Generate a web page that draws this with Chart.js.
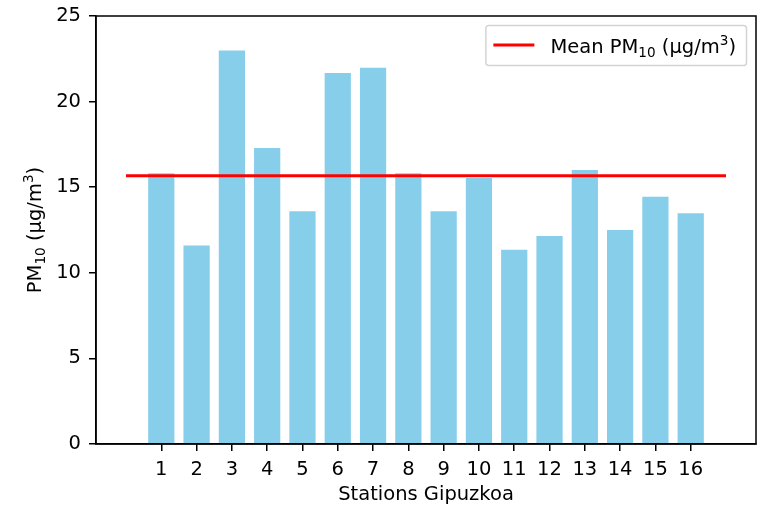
<!DOCTYPE html>
<html>
<head>
<meta charset="utf-8">
<script src="https://cdn.jsdelivr.net/npm/chart.js@4/dist/chart.umd.min.js"></script>
<style>
  html, body { margin: 0; padding: 0; background: #fff; }
  #wrap { width: 764px; height: 505px; }
</style>
</head>
<body>
<div id="wrap"><canvas id="pmChart" width="764" height="505"></canvas></div>
<script>
// PM10 por estación (Gipuzkoa)
const stations = [1, 2, 3, 4, 5, 6, 7, 8, 9, 10, 11, 12, 13, 14, 15, 16];
const pm10 = [15.87, 11.66, 23.05, 17.35, 13.65, 21.73, 22.04, 15.87, 13.65, 15.6, 11.41, 12.21, 16.06, 12.56, 14.5, 13.53];
const meanLineX = [0, 17];
const meanPm10 = 15.67;
const yTicks = [0, 5, 10, 15, 20, 25];

const fontFamily = "'DejaVu Sans', sans-serif";
const fontSize = 19.5;
const scriptSize = 13.6;

// textos con subíndice / superíndice
const meanLabel = [{ t: "Mean PM" }, { t: "10", sub: true }, { t: " (µg/m" }, { t: "3", sup: true }, { t: ")" }];
const yTitle = [{ t: "PM" }, { t: "10", sub: true }, { t: " (µg/m" }, { t: "3", sup: true }, { t: ")" }];
const xTitle = [{ t: "Stations Gipuzkoa" }];

function segFont(s) {
  return ((s.sub || s.sup) ? scriptSize : fontSize) + "px " + fontFamily;
}

function richWidth(ctx, segs) {
  let w = 0;
  segs.forEach(s => { ctx.font = segFont(s); w += ctx.measureText(s.t).width; });
  return w;
}

// dibuja en (x, baseline), alineado a la izquierda
function drawRich(ctx, segs, x, y) {
  ctx.textBaseline = "alphabetic";
  ctx.textAlign = "left";
  segs.forEach(s => {
    ctx.font = segFont(s);
    const dy = s.sub ? 3.5 : s.sup ? -8 : 0;
    ctx.fillText(s.t, x, y + dy);
    x += ctx.measureText(s.t).width;
  });
}

// marco completo + títulos de ejes
const framePlugin = {
  id: "frame",
  afterDraw(chart) {
    const { ctx, chartArea: a } = chart;
    ctx.save();
    ctx.strokeStyle = "#000";
    ctx.lineWidth = 1.5;
    ctx.strokeRect(a.left, a.top, a.right - a.left, a.bottom - a.top);

    ctx.fillStyle = "#000";
    const cx = (a.left + a.right) / 2;
    drawRich(ctx, xTitle, cx - richWidth(ctx, xTitle) / 2, 500);

    const cy = (a.top + a.bottom) / 2;
    ctx.translate(41, cy);
    ctx.rotate(-Math.PI / 2);
    drawRich(ctx, yTitle, -richWidth(ctx, yTitle) / 2, 0);
    ctx.restore();
  }
};

// leyenda dentro del área
const innerLegend = {
  id: "innerLegend",
  afterDraw(chart) {
    const { ctx, chartArea: a } = chart;
    const ds = chart.data.datasets[1];
    ctx.save();
    const textW = richWidth(ctx, meanLabel);
    const w = textW + 75, h = 40;
    const x = a.right - 10 - w, y = a.top + 9;
    ctx.beginPath();
    ctx.roundRect(x + 0.5, y + 0.5, w, h, 3);
    ctx.fillStyle = "rgba(255,255,255,0.8)";
    ctx.fill();
    ctx.strokeStyle = "#d4d4d4";
    ctx.lineWidth = 1.5;
    ctx.stroke();
    ctx.beginPath();
    ctx.moveTo(x + 8, y + h / 2);
    ctx.lineTo(x + 49, y + h / 2);
    ctx.strokeStyle = ds.borderColor;
    ctx.lineWidth = 3;
    ctx.stroke();
    ctx.fillStyle = "#000";
    drawRich(ctx, meanLabel, x + 65, y + 28);
    ctx.restore();
  }
};

const ctx = document.getElementById("pmChart").getContext("2d");
new Chart(ctx, {
  type: "bar",
  data: {
    datasets: [{
      type: "bar",
      label: "PM10",
      data: stations.map((s, i) => ({ x: s, y: pm10[i] })),
      backgroundColor: "#87CEEB",
      borderColor: "rgba(255,255,255,0.3)",
      borderWidth: 1,
      categoryPercentage: 1,
      barPercentage: 0.8,
      order: 2
    }, {
      type: "line",
      label: "Mean PM10 (µg/m3)",
      data: meanLineX.map(x => ({ x, y: meanPm10 })),
      borderColor: "#ff0000",
      borderWidth: 3,
      pointRadius: 0,
      fill: false,
      order: 1
    }]
  },
  options: {
    responsive: false,
    animation: false,
    layout: { padding: { top: 16, right: 8, left: 0, bottom: 0 } },
    plugins: {
      legend: { display: false },
      tooltip: { enabled: false }
    },
    scales: {
      x: {
        type: "linear",
        min: -0.85,
        max: 17.85,
        offset: false,
        afterBuildTicks: s => { s.ticks = stations.map(v => ({ value: v })); },
        afterFit: s => { s.height = 61; s.paddingLeft = 0; s.paddingRight = 0; },
        ticks: { color: "#000", font: { family: fontFamily, size: fontSize }, padding: 7, maxRotation: 0, autoSkip: false },
        grid: { drawOnChartArea: false, offset: false, tickLength: 7, color: "#000", lineWidth: 1.5 },
        border: { color: "#000", width: 1.5 }
      },
      y: {
        min: 0,
        max: 25,
        afterBuildTicks: s => { s.ticks = yTicks.map(v => ({ value: v })); },
        afterFit: s => { s.width = 96; s.paddingTop = 0; s.paddingBottom = 0; },
        ticks: { color: "#000", font: { family: fontFamily, size: fontSize }, padding: 8 },
        grid: { drawOnChartArea: false, tickLength: 7, color: "#000", lineWidth: 1.5 },
        border: { color: "#000", width: 1.5 }
      }
    }
  },
  plugins: [framePlugin, innerLegend]
});
</script>
</body>
</html>
